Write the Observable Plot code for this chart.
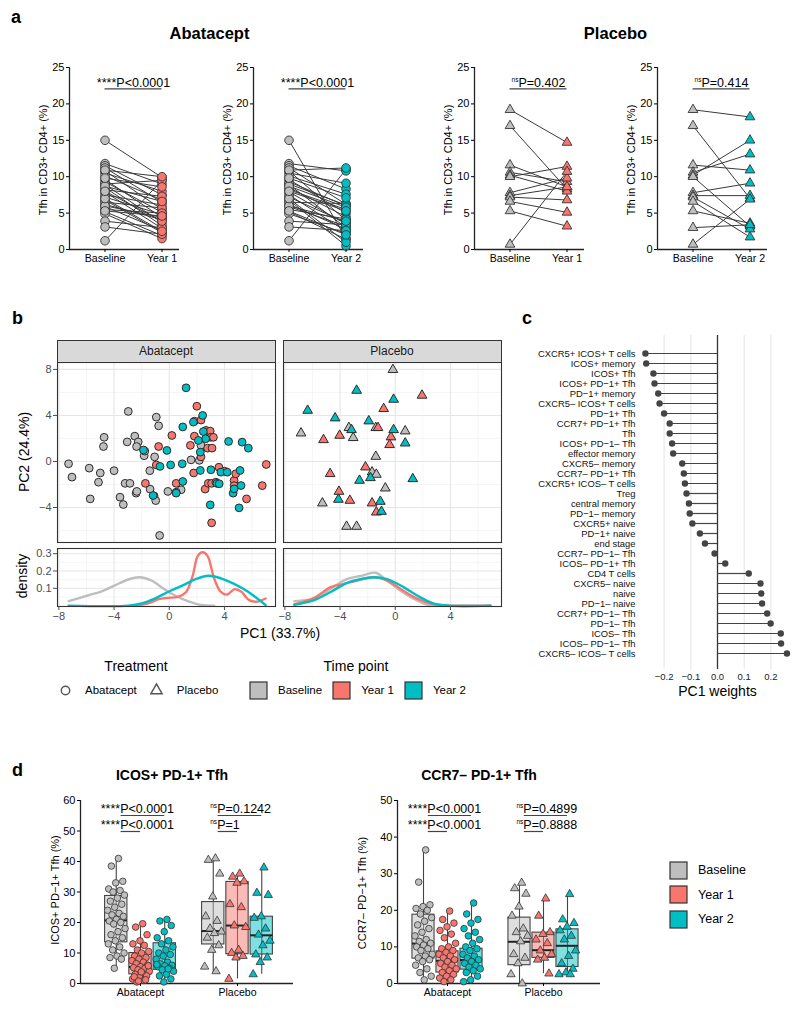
<!DOCTYPE html>
<html>
<head>
<meta charset="utf-8">
<script src="https://cdn.jsdelivr.net/npm/d3@7"></script>
<script src="https://cdn.jsdelivr.net/npm/@observablehq/plot@0.6"></script>
<style>
html,body{margin:0;padding:0;background:#fff;}
#root{position:relative;width:800px;height:1010px;overflow:hidden;font-family:"Liberation Sans",Arial,Helvetica,sans-serif;color:#000;}
.strip{position:absolute;box-sizing:border-box;background:#d9d9d9;border:1px solid #333;font-size:12px;line-height:20px;text-align:center;color:#1a1a1a;}
.legt-swatches,.legb-swatches,.legd-swatches{font-family:"Liberation Sans",Arial,sans-serif;font-size:11.5px;color:#000;margin:0;min-height:0;}
.legt-swatch{margin-right:12.5px;}
.legb-swatch{margin-right:11px;}
.legt-swatch > svg{margin-right:12.5px;}
.legb-swatch > svg{margin-right:11px;}
.legb-swatch rect,.legd-swatch rect{stroke:#333;stroke-width:1.2px;}
.legd-swatches{font-size:12.5px;}
.legd-swatch{padding-bottom:0;margin-bottom:7.5px;}
.legd-swatch > svg{margin-right:11px;}
</style>
</head>
<body>
<div id="root"></div>
<script>
// ---------------- DATA ----------------
const timepoints = ["Baseline", "Year 1", "Year 2"];
const treatments = ["Abatacept", "Placebo"];

// Panel a: Tfh in CD3+ CD4+ (%), paired patients
const abatBaseline = [15.0, 1.2, 11.8, 11.5, 11.2, 10.8, 10.5, 10.1, 9.6, 9.3, 8.9, 8.5, 8.2, 7.9, 7.5, 7.2, 6.8, 6.5, 6.2, 5.9, 5.5, 5.2, 4.9, 3.9, 3.1, 9.0, 8.7, 10.9, 6.0, 7.0, 9.8, 8.0, 5.3];
const abatYear1 = [9.9, 9.5, 9.0, 7.5, 6.5, 5.5, 8.0, 6.8, 4.4, 5.1, 3.7, 3.3, 7.3, 2.9, 6.1, 4.8, 2.3, 5.7, 4.1, 2.6, 5.0, 1.9, 1.5, 3.0, 2.1, 9.5, 6.6, 10.0, 4.4, 2.5, 8.6, 3.9, 4.6];
const abatYear2 = [1.5, 11.0, 10.8, 8.3, 6.2, 4.0, 9.1, 7.6, 5.0, 6.0, 3.0, 4.5, 5.5, 3.5, 2.5, 3.7, 0.5, 6.3, 2.8, 3.2, 4.2, 1.4, 2.2, 3.4, 2.6, 6.1, 5.8, 11.2, 3.9, 1.0, 7.1, 5.3, 2.0];
const placY1Baseline = [19.2, 17.0, 11.6, 10.6, 10.2, 10.0, 7.8, 7.4, 7.2, 6.6, 5.3, 0.7];
const placY1Year1 = [14.7, 8.3, 8.6, 9.3, 8.0, 11.4, 9.8, 8.6, 6.8, 5.1, 3.2, 10.7];
const placY2Baseline = [19.2, 17.0, 11.6, 10.6, 10.2, 10.0, 7.8, 7.4, 7.2, 6.6, 5.3, 3.0, 0.7];
const placY2Year2 = [18.2, 7.0, 10.9, 13.1, 15.0, 3.2, 9.1, 7.4, 2.8, 1.7, 3.6, 3.4, 6.9];
const aTicks = [0, 5, 10, 15, 20, 25];
const aPStars = ["****", "****", "ns", "ns"];
const aPText = ["P<0.0001", "P<0.0001", "P=0.402", "P=0.414"];

// Panel b: PCA scores [PC1, PC2]
const pcaAbatBaseline = [[-7.3,-0.2],[-7.05,-1.36],[-5.8,-0.58],[-5.73,-3.25],[-5.0,-1.0],[-5.13,-1.8],[-4.72,2.1],[-4.77,1.3],[-4.0,-0.8],[-3.57,-3.1],[-3.33,-3.74],[-2.97,4.35],[-3.05,1.7],[-3.2,-1.9],[-2.85,-1.9],[-2.5,2.2],[-2.25,1.7],[-2.37,1.3],[-2.4,-2.75],[-2.35,-2.6],[-1.82,0.5],[-1.77,0.9],[-1.41,-0.8],[-1.39,-2.4],[-1.06,0.4],[-1.1,-3.0],[-0.98,-3.4],[-0.94,3.85],[-0.77,3.1],[-0.7,-6.43],[-0.1,-2.6],[0.86,-2.46],[0.5,-2.67],[1.58,0.14],[2.3,1.4],[2.18,0.1],[1.82,3.5]];
const pcaAbatYear1 = [[-0.77,1.3],[-0.94,-0.3],[0.19,2.26],[-1.73,-1.9],[0.5,-1.9],[2.0,4.8],[2.3,3.6],[1.82,2.2],[1.53,1.4],[1.77,-1.0],[2.3,0.4],[2.66,2.7],[2.97,2.64],[3.0,2.1],[3.2,2.1],[2.78,1.16],[3.1,1.16],[2.6,-2.4],[2.83,-1.9],[3.07,-1.9],[3.6,-0.5],[4.0,-0.84],[4.7,-1.65],[4.82,-1.07],[4.7,-2.1],[5.6,-3.25],[3.07,-5.33],[6.74,-2.1],[7.03,-0.26],[3.38,-1.8]];
const pcaAbatYear2 = [[1.22,6.4],[0.98,3.0],[1.75,3.42],[2.42,4.0],[2.47,2.6],[2.64,1.97],[2.11,1.83],[2.25,0.81],[2.25,-0.78],[-1.87,1.0],[-0.67,-0.43],[-0.17,0.96],[0.1,-0.3],[0.94,-0.2],[0.98,-1.74],[0.5,-2.75],[-1.17,-2.96],[3.02,-0.72],[2.97,-3.77],[3.74,-0.93],[4.2,-0.93],[4.3,1.74],[3.45,-1.9],[3.62,-1.94],[4.63,-2.75],[4.7,-2.38],[5.13,-0.78],[5.2,-2.09],[5.28,1.68],[5.73,1.16],[5.06,-4.03]];
const pcaPlacBaseline = [[-0.17,7.97],[-6.83,2.46],[-3.36,2.93],[-3.05,2.06],[-1.41,2.93],[0.72,2.64],[-1.41,0.43],[-1.68,-0.93],[-1.37,-1.13],[-0.72,-2.32],[-5.28,-3.62],[-3.53,-5.65],[-2.8,-5.65]];
const pcaPlacYear1 = [[1.94,5.74],[-0.84,4.58],[-5.2,1.88],[-4.03,2.26],[-1.25,2.93],[-0.31,2.12],[-0.41,1.45],[-2.16,-0.49],[-4.72,-1.07],[-4.08,-2.61],[-3.29,-3.39],[-1.68,-3.62],[-1.37,-4.41]];
const pcaPlacYear2 = [[-2.8,6.17],[-0.12,5.39],[-6.35,4.43],[-4.36,3.77],[-1.92,3.51],[-3.17,2.75],[-0.12,2.75],[0.72,1.59],[-1.8,-1.42],[-2.59,-1.65],[1.27,-1.51],[-4.12,-3.3],[-1.08,-3.48],[-1.0,-4.35]];
// density curves [PC1, density]
const densAbatBaseline = [[-7.29,0.026],[-5.85,0.06],[-4.89,0.083],[-3.93,0.117],[-2.97,0.151],[-2.13,0.164],[-1.29,0.145],[-0.34,0.094],[0.38,0.06],[1.34,0.026],[2.3,0.004],[3.26,0.0]];
const densAbatYear1 = [[-2.5,0.0],[-1.53,0.013],[-0.82,0.036],[-0.1,0.045],[0.62,0.05],[1.22,0.079],[1.7,0.173],[2.06,0.286],[2.42,0.308],[2.78,0.286],[3.26,0.155],[3.74,0.079],[4.2,0.064],[4.7,0.094],[5.18,0.083],[5.78,0.032],[6.38,0.023],[6.98,0.041]];
const densAbatYear2 = [[-7.29,0.0],[-2.97,0.0],[-2.0,0.013],[-1.05,0.041],[0.02,0.083],[0.98,0.117],[1.94,0.154],[2.83,0.173],[3.74,0.158],[4.7,0.126],[5.66,0.083],[6.38,0.041],[6.98,0.004]];
const densPlacBaseline = [[-7.31,0.026],[-5.88,0.04],[-4.68,0.098],[-3.48,0.155],[-2.52,0.171],[-1.44,0.19],[-0.6,0.145],[0.36,0.088],[1.32,0.04],[2.28,0.006],[3.48,0.0],[6.9,0.0]];
const densPlacYear1 = [[-7.31,0.008],[-5.88,0.045],[-4.68,0.107],[-3.72,0.126],[-2.76,0.145],[-1.56,0.164],[-0.6,0.145],[0.36,0.098],[1.32,0.051],[2.52,0.013],[3.72,0.0],[6.9,0.0]];
const densPlacYear2 = [[-7.31,0.004],[-5.88,0.032],[-4.68,0.079],[-3.48,0.132],[-2.52,0.153],[-1.56,0.164],[-0.6,0.153],[0.6,0.107],[1.56,0.06],[2.76,0.013],[3.96,0.0],[6.9,0.0]];
const pcaXTicks = [-8, -4, 0, 4];
const pcaXMinor = [-6, -2, 2, 6];
const pcaYTicks = [-4, 0, 4, 8];
const pcaYMinor = [-6, -2, 2, 6];
const densYTicks = [0.1, 0.2, 0.3];
const densYMinor = [0.05, 0.15, 0.25];

// Panel c: PC1 weights
const pc1Names = ["CXCR5+ ICOS+ T cells","ICOS+ memory","ICOS+ Tfh","ICOS+ PD−1+ Tfh","PD−1+ memory","CXCR5– ICOS+ T cells","PD−1+ Tfh","CCR7+ PD−1+ Tfh","Tfh","ICOS+ PD−1– Tfh","effector memory","CXCR5– memory","CCR7– PD−1+ Tfh","CXCR5+ ICOS– T cells","Treg","central memory","PD−1– memory","CXCR5+ naive","PD−1+ naive","end stage","CCR7– PD−1– Tfh","ICOS– PD−1+ Tfh","CD4 T cells","CXCR5– naive","naive","PD−1– naive","CCR7+ PD−1– Tfh","PD−1– Tfh","ICOS– Tfh","ICOS– PD−1– Tfh","CXCR5– ICOS– T cells"];
const pc1Weights = [-0.270,-0.267,-0.240,-0.236,-0.222,-0.217,-0.200,-0.179,-0.179,-0.170,-0.166,-0.132,-0.126,-0.122,-0.116,-0.107,-0.104,-0.094,-0.066,-0.047,-0.011,0.029,0.117,0.161,0.164,0.167,0.186,0.199,0.237,0.238,0.260];
const pc1Ticks = [-0.2, -0.1, 0, 0.1, 0.2];
const pc1Grid = [-0.2, -0.1, 0.1, 0.2];

// Panel d: ICOS+ PD-1+ Tfh (%) — order: Abatacept B, Y1, Y2, Placebo B, Y1, Y2
const icosAbatBaseline = [41, 38.5, 33.5, 33, 31, 30.5, 30, 29, 28, 27, 26, 25, 24, 23, 22.5, 22, 21, 20.5, 20, 19.5, 18, 17, 16, 15, 14, 13, 12, 11, 10, 9, 8.5, 8, 5];
const icosAbatYear1 = [19.6, 18.5, 16, 14, 13, 12.5, 11, 10.5, 10, 9, 8.5, 8, 7.5, 7, 6.5, 6, 5.5, 5.2, 5, 4.5, 4, 3.5, 3, 2.5, 2, 1.5, 1, 0.5, 5.8, 3.8, 2.2, 1.2, 0.8];
const icosAbatYear2 = [21, 20.5, 19, 17, 15, 14, 13, 12, 11, 10, 9.5, 9, 8, 7, 6.5, 6, 5.8, 5.5, 5, 4.5, 4, 3, 2.5, 1.5, 0.5, 6.2, 4.8];
const icosPlacBaseline = [41, 40.5, 36, 28.5, 22, 20.5, 18, 17, 16.5, 15, 12.5, 11, 5.5, 4];
const icosPlacYear1 = [36, 35, 33.5, 33, 26, 25, 19, 18.5, 11, 10, 9, 8.5, 1.5];
const icosPlacYear2 = [38, 29.7, 29, 22, 21.5, 18, 16, 14, 12.5, 9.5, 8.5, 7, 3];
const icosQ1 = [13.5, 3.0, 4.5, 12.8, 9.6, 9.5];
const icosMedian = [20.7, 5.4, 6.0, 17.2, 19.0, 15.8];
const icosQ3 = [28.7, 10.0, 13.2, 26.7, 33.3, 21.9];
const icosLow = [5.0, 0.5, 0.5, 3.5, 1.5, 3.0];
const icosHigh = [41.0, 19.6, 21.0, 41.0, 36.0, 38.0];
const icosTicks = [0, 10, 20, 30, 40, 50, 60];
const icosPStars = ["****", "****", "ns", "ns"];
const icosPText = ["P<0.0001", "P<0.0001", "P=0.1242", "P=1"];

// Panel d: CCR7– PD-1+ Tfh (%)
const ccrAbatBaseline = [36.5, 27.7, 21.5, 21, 20.5, 20, 19, 18, 17, 16, 15, 14, 13, 12, 11.5, 11, 10.5, 10, 9.5, 9, 8, 7.5, 7, 6.5, 6, 5, 4, 3, 2, 1];
const ccrAbatYear1 = [19.8, 17.5, 16.5, 15.5, 14.5, 13.5, 12.5, 11, 10, 9.5, 9, 8.5, 8, 7.5, 7, 6.5, 6, 5.5, 5, 4.5, 4, 3.5, 3, 2.5, 2, 1.5, 1, 0.5];
const ccrAbatYear2 = [22, 19, 17.5, 16.5, 15, 14, 13, 12, 11, 10, 9.5, 9, 8, 7.5, 7, 6.5, 6, 5.5, 5, 4.5, 4, 3.5, 3, 2, 1, 0.5];
const ccrPlacBaseline = [27.5, 26, 24.5, 21, 18.5, 15, 14, 13, 11.5, 8, 7, 5.5, 2.5, 0];
const ccrPlacYear1 = [23.2, 18.5, 14, 13.5, 12, 11, 9, 8, 7, 6.5, 2.7];
const ccrPlacYear2 = [24.4, 17.5, 16.5, 15.5, 14.5, 13, 12, 9, 7.5, 5.5, 4, 3, 2.5, 2.5];
const ccrQ1 = [6.8, 3.0, 3.8, 5.0, 7.0, 4.5];
const ccrMedian = [10.9, 6.2, 6.4, 11.4, 9.1, 10.3];
const ccrQ3 = [18.8, 8.8, 9.5, 18.0, 13.9, 14.8];
const ccrLow = [0.9, 0.5, 0.5, 0.0, 2.7, 2.5];
const ccrHigh = [36.5, 19.8, 22.0, 27.5, 23.2, 24.4];
const ccrTicks = [0, 10, 20, 30, 40, 50];
const ccrPStars = ["****", "****", "ns", "ns"];
const ccrPText = ["P<0.0001", "P<0.0001", "P=0.4899", "P=0.8888"];

// ---------------- STYLE / HELPERS ----------------
const gray = "#BEBEBE", red = "#F8766D", teal = "#00BFC4";
const timeColors = [gray, red, teal];
const FONT = '"Liberation Sans", Arial, Helvetica, sans-serif';
const svgStyle = `background:transparent;overflow:visible;font-family:${FONT};color:#000;`;
const root = document.getElementById("root");
function place(node, left, top) {
  node.style.position = "absolute";
  node.style.left = left + "px";
  node.style.top = top + "px";
  root.appendChild(node);
  return node;
}
function txt(s, x, y, size, {weight = "normal", rotate = 0, color = "#000"} = {}) {
  const d = document.createElement("div");
  d.textContent = s;
  d.style.cssText = `position:absolute;left:${x}px;top:${y}px;font-size:${size}px;font-weight:${weight};line-height:1;white-space:nowrap;color:${color};transform:translate(-50%,-50%) rotate(${rotate}deg);`;
  root.appendChild(d);
}
const ctx = document.createElement("canvas").getContext("2d");
function tw(s, fs) { ctx.font = `${fs}px ${FONT}`; return ctx.measureText(s).width; }
const NS_SIZE = 6.5, P_SIZE = 12.5;

// ---------------- PANEL A ----------------
function pairedPlot(A, base, year, yearLabel, fill, symbol, r, stars, ptxt) {
  const span = 57;
  const xDom = [-35.5 / span, 1 + 17.5 / span];
  const pairs = base.map((b, i) => ({b, y: year[i]}));
  const isNs = stars === "ns";
  const sSize = isNs ? NS_SIZE : P_SIZE;
  const dxP = (tw(stars, sSize) - tw(ptxt, P_SIZE)) / 2;
  const svg = Plot.plot({
    width: 69 + 110 + 20, height: 225,
    marginLeft: 69, marginRight: 20, marginTop: 17, marginBottom: 26,
    style: svgStyle,
    x: {domain: xDom}, y: {domain: [0, 25]},
    marks: [
      Plot.link(pairs, {x1: 0, y1: "b", x2: 1, y2: "y", stroke: "#3a3a3a", strokeWidth: 1}),
      Plot.ruleX([xDom[0]], {stroke: "#222", strokeWidth: 1.3}),
      Plot.ruleY([0], {stroke: "#222", strokeWidth: 1.3}),
      Plot.dot(pairs, {x: 0, y: "b", r, symbol, fill: gray, stroke: "#333", strokeWidth: 0.9}),
      Plot.dot(pairs, {x: 1, y: "y", r, symbol, fill, stroke: "#333", strokeWidth: 0.9}),
      Plot.text([stars], {x: 0.5, y: 25, dx: dxP, dy: isNs ? 12.5 : 15, textAnchor: "end", fontSize: sSize}),
      Plot.text([ptxt], {x: 0.5, y: 25, dx: dxP, dy: 15, textAnchor: "start", fontSize: P_SIZE}),
      Plot.ruleY([25], {x1: 0, x2: 1, dy: 21.3, stroke: "#444", strokeWidth: 1.2}),
      Plot.axisY({ticks: aTicks, tickSize: 3, tickPadding: 2, fontSize: 11, label: null}),
      Plot.axisX({ticks: [0, 1], tickFormat: i => ["Baseline", yearLabel][i], tickSize: 3, tickPadding: 2, fontSize: 10.6, label: null})
    ]
  });
  place(svg, A - 69, 50);
  txt("Tfh in CD3+ CD4+ (%)", A - 26, 160, 11, {rotate: -90});
}
pairedPlot(69, abatBaseline, abatYear1, timepoints[1], red, "circle", 4.3, aPStars[0], aPText[0]);
pairedPlot(253, abatBaseline, abatYear2, timepoints[2], teal, "circle", 4.3, aPStars[1], aPText[1]);
pairedPlot(474, placY1Baseline, placY1Year1, timepoints[1], red, "triangle", 3.6, aPStars[2], aPText[2]);
pairedPlot(657, placY2Baseline, placY2Year2, timepoints[2], teal, "triangle", 3.6, aPStars[3], aPText[3]);
txt("a", 16, 16.5, 18, {weight: "bold"});
txt("Abatacept", 209.5, 32.5, 16.5, {weight: "bold"});
txt("Placebo", 615.5, 32.5, 16.5, {weight: "bold"});

// ---------------- PANEL B ----------------
const pcaX = [-8.1, 7.7], pcaY = [-7.04, 8.6], densY = [-0.005, 0.33];
function grid(xMaj, xMin, yMaj, yMin) {
  return [
    Plot.ruleX(xMin, {stroke: "#f0f0f0", strokeWidth: 0.7}),
    Plot.ruleY(yMin, {stroke: "#f0f0f0", strokeWidth: 0.7}),
    Plot.ruleX(xMaj, {stroke: "#e6e6e6", strokeWidth: 1.1}),
    Plot.ruleY(yMaj, {stroke: "#e6e6e6", strokeWidth: 1.1})
  ];
}
const axisCol = "#4d4d4d";
function scatter(left, frameLeft, sets, symbol, r, showY) {
  const marks = [...grid(pcaXTicks, pcaXMinor, pcaYTicks, pcaYMinor)];
  sets.forEach((s, t) => marks.push(Plot.dot(s, {x: d => d[0], y: d => d[1], r, symbol, fill: timeColors[t], stroke: "#2b2b2b", strokeWidth: 1})));
  marks.push(Plot.frame({stroke: "#333", strokeWidth: 1.1}));
  if (showY) marks.push(Plot.axisY({ticks: pcaYTicks, tickSize: 4, tickPadding: 2, fontSize: 11, label: null, color: axisCol}));
  const svg = Plot.plot({
    width: frameLeft + 218, height: 180,
    marginLeft: frameLeft, marginRight: 0, marginTop: 0, marginBottom: 0,
    style: svgStyle,
    x: {domain: pcaX, axis: null}, y: {domain: pcaY, axis: showY ? undefined : null},
    marks
  });
  place(svg, left, 362);
}
function density(left, frameLeft, sets, showY) {
  const marks = [...grid(pcaXTicks, pcaXMinor, densYTicks, densYMinor)];
  sets.forEach((s, t) => marks.push(Plot.line(s, {x: d => d[0], y: d => d[1], stroke: timeColors[t], strokeWidth: 2.4, curve: "catmull-rom"})));
  marks.push(Plot.frame({stroke: "#333", strokeWidth: 1.1}));
  if (showY) marks.push(Plot.axisY({ticks: densYTicks, tickFormat: d3.format(".1f"), tickSize: 4, tickPadding: 2, fontSize: 11, label: null, color: axisCol}));
  marks.push(Plot.axisX({ticks: pcaXTicks, tickSize: 4, tickPadding: 2, fontSize: 11, label: null, color: axisCol}));
  const svg = Plot.plot({
    width: frameLeft + 218, height: 58 + 30,
    marginLeft: frameLeft, marginRight: 0, marginTop: 0, marginBottom: 30,
    style: svgStyle,
    x: {domain: pcaX}, y: {domain: densY, axis: showY ? undefined : null},
    marks
  });
  place(svg, left, 548);
}
scatter(0, 57, [pcaAbatBaseline, pcaAbatYear1, pcaAbatYear2], "circle", 3.9, true);
scatter(283, 0, [pcaPlacBaseline, pcaPlacYear1, pcaPlacYear2], "triangle", 3.6, false);
density(0, 57, [densAbatBaseline, densAbatYear1, densAbatYear2], true);
density(283, 0, [densPlacBaseline, densPlacYear1, densPlacYear2], false);
function strip(label, left) {
  const d = document.createElement("div");
  d.className = "strip";
  d.textContent = label;
  d.style.cssText += `left:${left}px;top:340px;width:219px;height:23px;`;
  root.appendChild(d);
}
strip(treatments[0], 56.5);
strip(treatments[1], 282.5);
txt("b", 17.5, 317.5, 18, {weight: "bold"});
txt("PC2 (24.4%)", 24, 452, 14, {rotate: -90});
txt("density", 22, 576, 14, {rotate: -90});
txt("PC1 (33.7%)", 280, 632.5, 14);
txt("Treatment", 136, 666, 14);
txt("Time point", 356, 666, 14);
const legT = Plot.legend({symbol: {domain: treatments, range: ["circle", "triangle"]}, stroke: "#555", fill: "none", r: 4.5, swatchSize: 15, className: "legt"});
place(legT, 57.5, 682.5);
const legB = Plot.legend({color: {type: "ordinal", domain: timepoints, range: timeColors}, legend: "swatches", swatchSize: 17, className: "legb"});
place(legB, 250, 681.5);

// ---------------- PANEL C ----------------
const pcRows = pc1Names.map((n, i) => ({n, w: pc1Weights[i]}));
const pcSvg = Plot.plot({
  width: 300, height: 390,
  marginLeft: 140, marginRight: 6, marginTop: 15, marginBottom: 41,
  style: svgStyle,
  x: {domain: [-0.2884, 0.2884]},
  y: {type: "point", domain: pc1Names, range: [22, 344]},
  marks: [
    Plot.ruleX(pc1Grid, {stroke: "#e6e6e6", strokeWidth: 1.1}),
    Plot.ruleX([0], {stroke: "#333", strokeWidth: 1.3}),
    Plot.ruleY(pcRows, {y: "n", x1: 0, x2: "w", stroke: "#444", strokeWidth: 1.2}),
    Plot.dot(pcRows, {y: "n", x: "w", r: 3.2, fill: "#444"}),
    Plot.axisY({tickSize: 0, tickPadding: 5, fontSize: 9.4, label: null, color: "#111"}),
    Plot.axisX({ticks: pc1Ticks, tickSize: 0, tickPadding: 4, fontSize: 9.5, tickFormat: d3.format(".1f"), label: null, color: "#222"}),
    Plot.text(["PC1 weights"], {frameAnchor: "bottom", dy: 26, fontSize: 14})
  ]
});
place(pcSvg, 500, 320);
txt("c", 527, 318, 18, {weight: "bold"});

// ---------------- PANEL D ----------------
function boxPlot(left, fw, pxPerUnit, xLeftUnits, yTicks, groups, q1, med, q3, lo, hi, pStars, pText) {
  const xDom = [xLeftUnits, xLeftUnits + fw / pxPerUnit];
  const yMax = yTicks[yTicks.length - 1];
  const pos = k => Math.floor(k / 3) + (k % 3 - 1) * 0.25;
  const bw = 0.23;
  const boxes = q1.map((_, k) => ({pos: pos(k), q1: q1[k], med: med[k], q3: q3[k], lo: lo[k], hi: hi[k], c: timeColors[k % 3]}));
  const marks = [
    Plot.ruleX([xDom[0]], {stroke: "#222", strokeWidth: 1.3}),
    Plot.ruleY([0], {stroke: "#222", strokeWidth: 1.3}),
    Plot.ruleX(boxes, {x: "pos", y1: "lo", y2: "hi", stroke: "#444", strokeWidth: 1.1}),
    Plot.rect(boxes, {x1: d => d.pos - bw / 2, x2: d => d.pos + bw / 2, y1: "q1", y2: "q3", fill: "c", fillOpacity: 0.5, stroke: "#444", strokeWidth: 1.1}),
    Plot.ruleY(boxes, {x1: d => d.pos - bw / 2, x2: d => d.pos + bw / 2, y: "med", stroke: "#222", strokeWidth: 2})
  ];
  groups.forEach((vals, k) => {
    const pts = vals.map((v, i) => ({v, j: ((((i + 1) * 0.6180339887) % 1) - 0.5) * 0.19}));
    marks.push(Plot.dot(pts, {x: d => pos(k) + d.j, y: "v", r: k < 3 ? 3.3 : 3.1, symbol: k < 3 ? "circle" : "triangle", fill: timeColors[k % 3], stroke: "#333", strokeWidth: 0.8}));
  });
  const pRows = pStars.map((s, j) => ({g: Math.floor(j / 2), row: j % 2, s, p: pText[j]}));
  pRows.forEach(d => {
    const isNs = d.s === "ns";
    marks.push(
      Plot.text([d.s], {x: d.g - 0.21, y: yMax, dy: (isNs ? 5.5 : 8) + d.row * 16, textAnchor: "end", fontSize: isNs ? NS_SIZE : P_SIZE}),
      Plot.text([d.p], {x: d.g - 0.21, y: yMax, dy: 8 + d.row * 16, textAnchor: "start", fontSize: P_SIZE}),
      Plot.ruleY([yMax], {x1: d.g - 0.2, x2: d.row === 0 ? d.g + 0.25 : d.g, dy: 15 + d.row * 16, stroke: "#444", strokeWidth: 1.2})
    );
  });
  marks.push(
    Plot.axisY({ticks: yTicks, tickSize: 3, tickPadding: 2, fontSize: 11, label: null}),
    Plot.axisX({ticks: [0, 1], tickFormat: i => treatments[i], tickSize: 3, tickPadding: 2, fontSize: 10.5, label: null})
  );
  const svg = Plot.plot({
    width: 80 + fw + 10, height: 10 + 183 + 27,
    marginLeft: 80, marginRight: 10, marginTop: 10, marginBottom: 27,
    style: svgStyle,
    color: {type: "identity"},
    x: {domain: xDom}, y: {domain: [0, yMax]},
    marks
  });
  place(svg, left, 790);
}
boxPlot(0, 213, 97, -60 / 97, icosTicks,
  [icosAbatBaseline, icosAbatYear1, icosAbatYear2, icosPlacBaseline, icosPlacYear1, icosPlacYear2],
  icosQ1, icosMedian, icosQ3, icosLow, icosHigh, icosPStars, icosPText);
boxPlot(317, 203, 96, -50 / 96, ccrTicks,
  [ccrAbatBaseline, ccrAbatYear1, ccrAbatYear2, ccrPlacBaseline, ccrPlacYear1, ccrPlacYear2],
  ccrQ1, ccrMedian, ccrQ3, ccrLow, ccrHigh, ccrPStars, ccrPText);
txt("d", 17.5, 769.5, 18, {weight: "bold"});
txt("ICOS+ PD-1+ Tfh", 172, 775, 14, {weight: "bold"});
txt("CCR7– PD-1+ Tfh", 479, 775, 14, {weight: "bold"});
txt("ICOS+ PD−1+ Tfh (%)", 55, 890, 11, {rotate: -90});
txt("CCR7– PD−1+ Tfh (%)", 362, 893, 11, {rotate: -90});
const legD = Plot.legend({color: {type: "ordinal", domain: timepoints, range: timeColors}, legend: "swatches", columns: 1, swatchSize: 17, className: "legd"});
place(legD, 670, 861.5);
</script>
</body>
</html>
